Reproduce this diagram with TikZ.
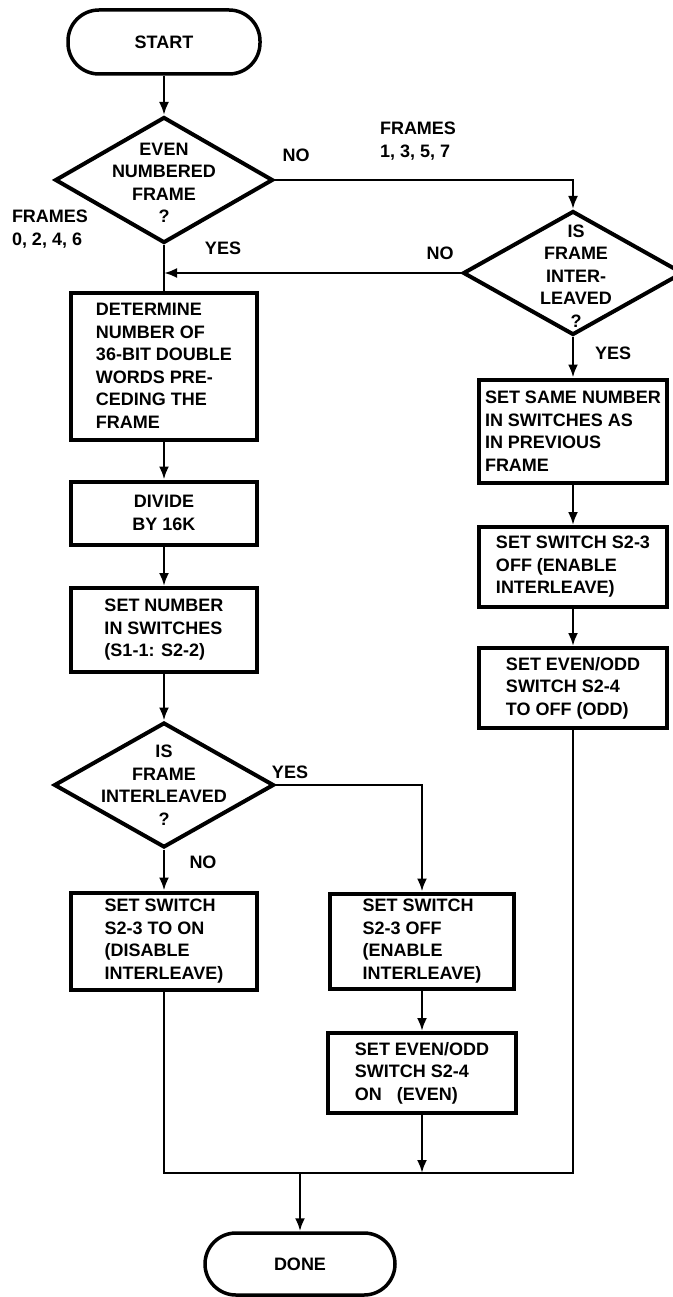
\documentclass[tikz,border=0pt]{standalone}
\usepackage{fontspec}
\setmainfont{Liberation Sans}
\usetikzlibrary{shapes.geometric,arrows.meta,positioning}

\begin{document}
\begin{tikzpicture}[x=1pt,y=-1pt,
	font=\fontsize{18}{22.5}\selectfont\bfseries,
	box/.style={draw,line width=4pt,align=left,minimum width=186pt,inner sep=0pt},
	term/.style={draw,line width=3.5pt,rounded corners=31pt,minimum width=192pt,minimum height=64pt},
	decision/.style={diamond,draw,line width=4pt,inner sep=0pt},
	conn/.style={line width=2.5pt},
	arrow/.style={line width=2.5pt,-{Latex[length=13pt,width=10pt]}}]
\useasboundingbox (0,0) rectangle (672,1297);
\fill[white] (0,0) rectangle (672,1297);

% left column
\node[term] (start) at (164,42) {START};
\node[decision,minimum width=218pt,minimum height=126pt] (even) at (164,180) {};
\node[align=center] (evenq) at (164,183) {EVEN\\NUMBERED\\FRAME\\?};
\node[box,minimum height=147pt] (determine) at (164,366) {DETERMINE\\NUMBER OF\\36-BIT DOUBLE\\WORDS PRE-\\CEDING THE\\FRAME};
\node[box,align=center,minimum height=63pt] (divide) at (164,513) {DIVIDE\\BY 16K};
\node[box,minimum height=84pt] (setnum) at (164,630) {SET NUMBER\\IN SWITCHES\\(S1-1: S2-2)};
\node[decision,minimum width=220pt,minimum height=125pt] (interl) at (164,785) {};
\node[align=center] (interlq) at (164,785) {IS\\FRAME\\INTERLEAVED\\?};
\node[box,minimum height=97pt] (swon) at (164,941) {SET SWITCH\\S2-3 TO ON\\(DISABLE\\INTERLEAVE)};

% middle column
\node[box,minimum width=184pt,minimum height=95pt] (swoff) at (422,941) {SET SWITCH\\S2-3 OFF\\(ENABLE\\INTERLEAVE)};
\node[box,minimum width=188pt,minimum height=80pt] (seteven) at (422,1073) {SET EVEN/ODD\\SWITCH S2-4\\ON\ \ \ (EVEN)};

% right column
\node[decision,minimum width=220pt,minimum height=124pt] (isframe) at (573,273) {};
\node[align=center] (isframeq) at (576,276) {IS\\FRAME\\INTER-\\LEAVED\\?};
\node[box,minimum width=188pt,minimum height=103pt] (same) at (573,431) {SET SAME NUMBER\\IN SWITCHES AS\\IN PREVIOUS\\FRAME};
\node[box,minimum width=188pt,minimum height=80pt] (rswoff) at (573,567) {SET SWITCH S2-3\\OFF (ENABLE\\INTERLEAVE)};
\node[box,minimum width=188pt,minimum height=80pt] (setodd) at (573,688) {SET EVEN/ODD\\SWITCH S2-4\\TO OFF (ODD)};

\node[term,minimum width=190pt,minimum height=62pt] (done) at (300,1264) {DONE};

% branch labels
\node (no1) at (296,155) {NO};
\node[align=left] (oddframes) at (418,141) {FRAMES\\1, 3, 5, 7};
\node[align=left] (evenframes) at (50,229) {FRAMES\\0, 2, 4, 6};
\node (yes1) at (223,248) {YES};
\node (no2) at (440,253) {NO};
\node (yes2) at (613,353) {YES};
\node (yes3) at (290,772) {YES};
\node (no3) at (203,862) {NO};

\coordinate (merge) at (even.south |- isframe.west);
\coordinate (bus) at (300,1173);
\coordinate (evenjoin) at (seteven.south |- bus);

\draw[arrow] (start) -- (even);
\draw[arrow] (even.east) -| (isframe.north);
\draw[arrow] (isframe.west) -- (merge);
\draw[conn] (even) -- (determine);
\draw[arrow] (determine) -- (divide);
\draw[arrow] (divide) -- (setnum);
\draw[arrow] (setnum) -- (interl);
\draw[arrow] (interl) -- (swon);
\draw[arrow] (interl.east) -| (swoff.north);
\draw[arrow] (swoff) -- (seteven);
\draw[arrow] (isframe) -- (same);
\draw[arrow] (same) -- (rswoff);
\draw[arrow] (rswoff) -- (setodd);
\draw[conn] (swon.south) |- (bus) -| (setodd.south);
\draw[arrow] (seteven) -- (evenjoin);
\draw[arrow] (bus) -- (done);

\end{tikzpicture}
\end{document}
